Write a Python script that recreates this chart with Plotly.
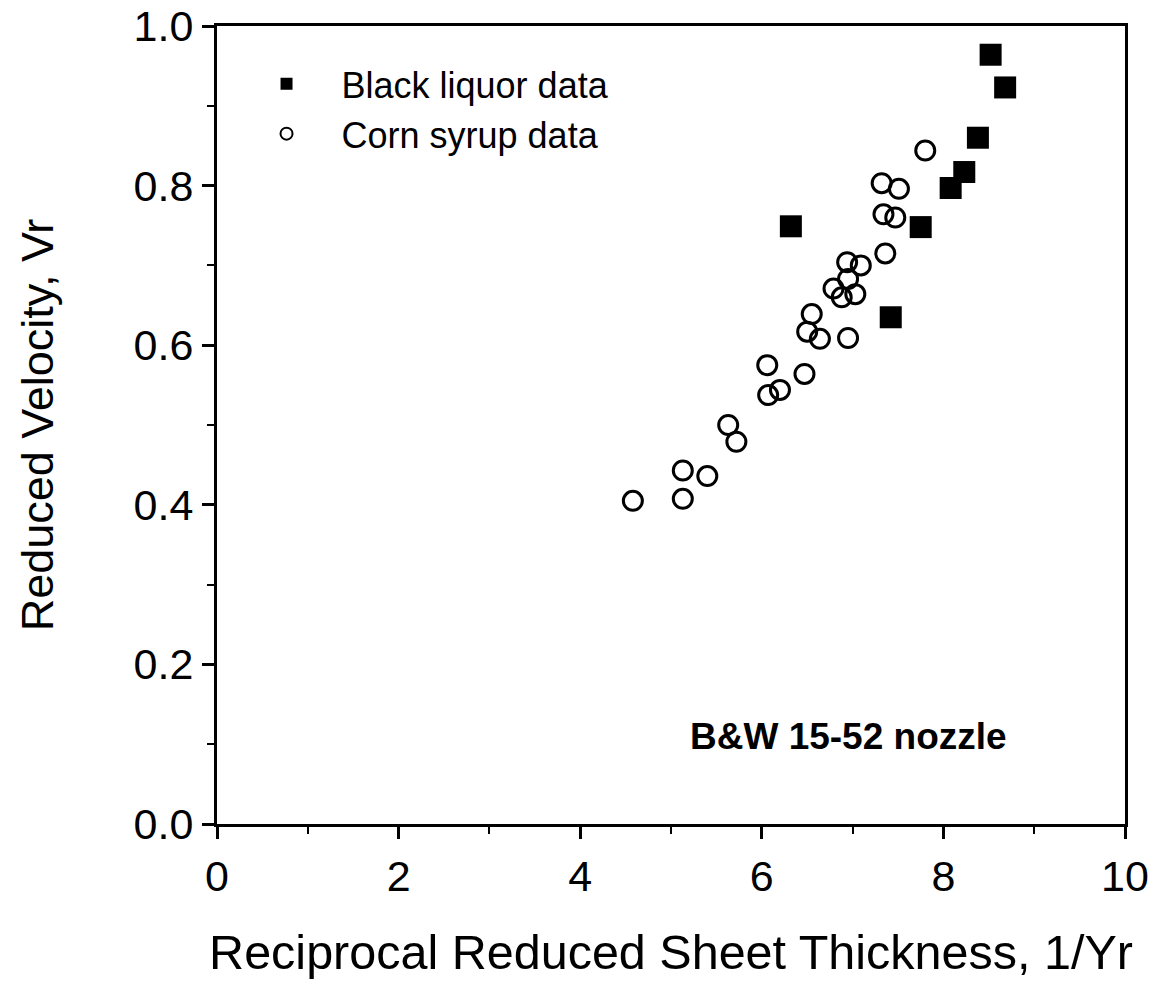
import plotly.graph_objects as go

# Black liquor data
black_x = [6.32, 7.42, 7.75, 8.08, 8.23, 8.38, 8.52, 8.68]
black_y = [0.749, 0.635, 0.748, 0.797, 0.817, 0.860, 0.964, 0.923]

# Corn syrup data
corn_x = [4.58, 5.13, 5.13, 5.40, 5.63, 5.72, 6.06, 6.07, 6.20, 6.47, 6.55, 6.50,
          6.64, 6.95, 6.79, 6.88, 6.95, 7.03, 6.94, 7.09, 7.36, 7.32, 7.51, 7.34,
          7.47, 7.80]
corn_y = [0.405, 0.4075, 0.443, 0.436, 0.500, 0.479, 0.575, 0.5375, 0.544, 0.564,
          0.639, 0.617, 0.608, 0.609, 0.671, 0.660, 0.683, 0.664, 0.704, 0.700,
          0.715, 0.803, 0.796, 0.764, 0.760, 0.844]

x_ticks = [0, 2, 4, 6, 8, 10]
y_ticks = [0.0, 0.2, 0.4, 0.6, 0.8, 1.0]

FONT = "Liberation Sans, Arial, Helvetica, sans-serif"

fig = go.Figure()
fig.add_trace(go.Scatter(
    x=black_x, y=black_y, mode="markers", name="Black liquor data",
    marker=dict(symbol="square", size=22, color="black", line=dict(width=0)),
))
fig.add_trace(go.Scatter(
    x=corn_x, y=corn_y, mode="markers", name="Corn syrup data",
    marker=dict(symbol="circle-open", size=19, color="black", line=dict(width=3, color="black")),
))

fig.add_annotation(
    x=6.96, y=0.11, xref="x", yref="y", text="<b>B&W 15-52 nozzle</b>",
    showarrow=False, font=dict(family=FONT, size=37, color="black"),
    xanchor="center", yanchor="middle",
)

axis_common = dict(
    showgrid=False, zeroline=False, showline=True, linecolor="black", linewidth=3,
    mirror=True, ticks="outside", ticklen=12, tickwidth=2.5, tickcolor="black",
    tickfont=dict(family=FONT, size=43, color="black"), automargin=False,
    ticklabeloverflow="allow",
)

fig.update_xaxes(
    range=[0, 10], tickvals=x_ticks, ticktext=[str(v) for v in x_ticks],
    minor=dict(ticks="outside", ticklen=7, tickwidth=2, tickcolor="black", dtick=1, tick0=0),
    title=dict(text="Reciprocal Reduced Sheet Thickness, 1/Yr",
               font=dict(family=FONT, size=48.5, color="black"), standoff=37),
    **axis_common,
)
fig.update_yaxes(
    range=[0, 1.0], tickvals=y_ticks, ticktext=[f"{v:.1f}" for v in y_ticks],
    minor=dict(ticks="outside", ticklen=7, tickwidth=2, tickcolor="black", dtick=0.1, tick0=0),
    title=dict(text="Reduced Velocity, Vr",
               font=dict(family=FONT, size=45, color="black"), standoff=66),
    **axis_common,
)

# page body has an 8px margin, so the figure is offset by 8px in the screenshot
fig.update_layout(
    width=1162, height=982,
    margin=dict(l=209, r=45, t=18, b=166),
    paper_bgcolor="white", plot_bgcolor="white",
    font=dict(family=FONT, color="black"),
    showlegend=True,
    legend=dict(
        x=0.016, y=0.965, xanchor="left", yanchor="top",
        font=dict(family=FONT, size=36, color="black"),
        bgcolor="rgba(0,0,0,0)", borderwidth=0,
        itemsizing="constant", itemwidth=100,
    ),
)

fig.write_html("out.html")
